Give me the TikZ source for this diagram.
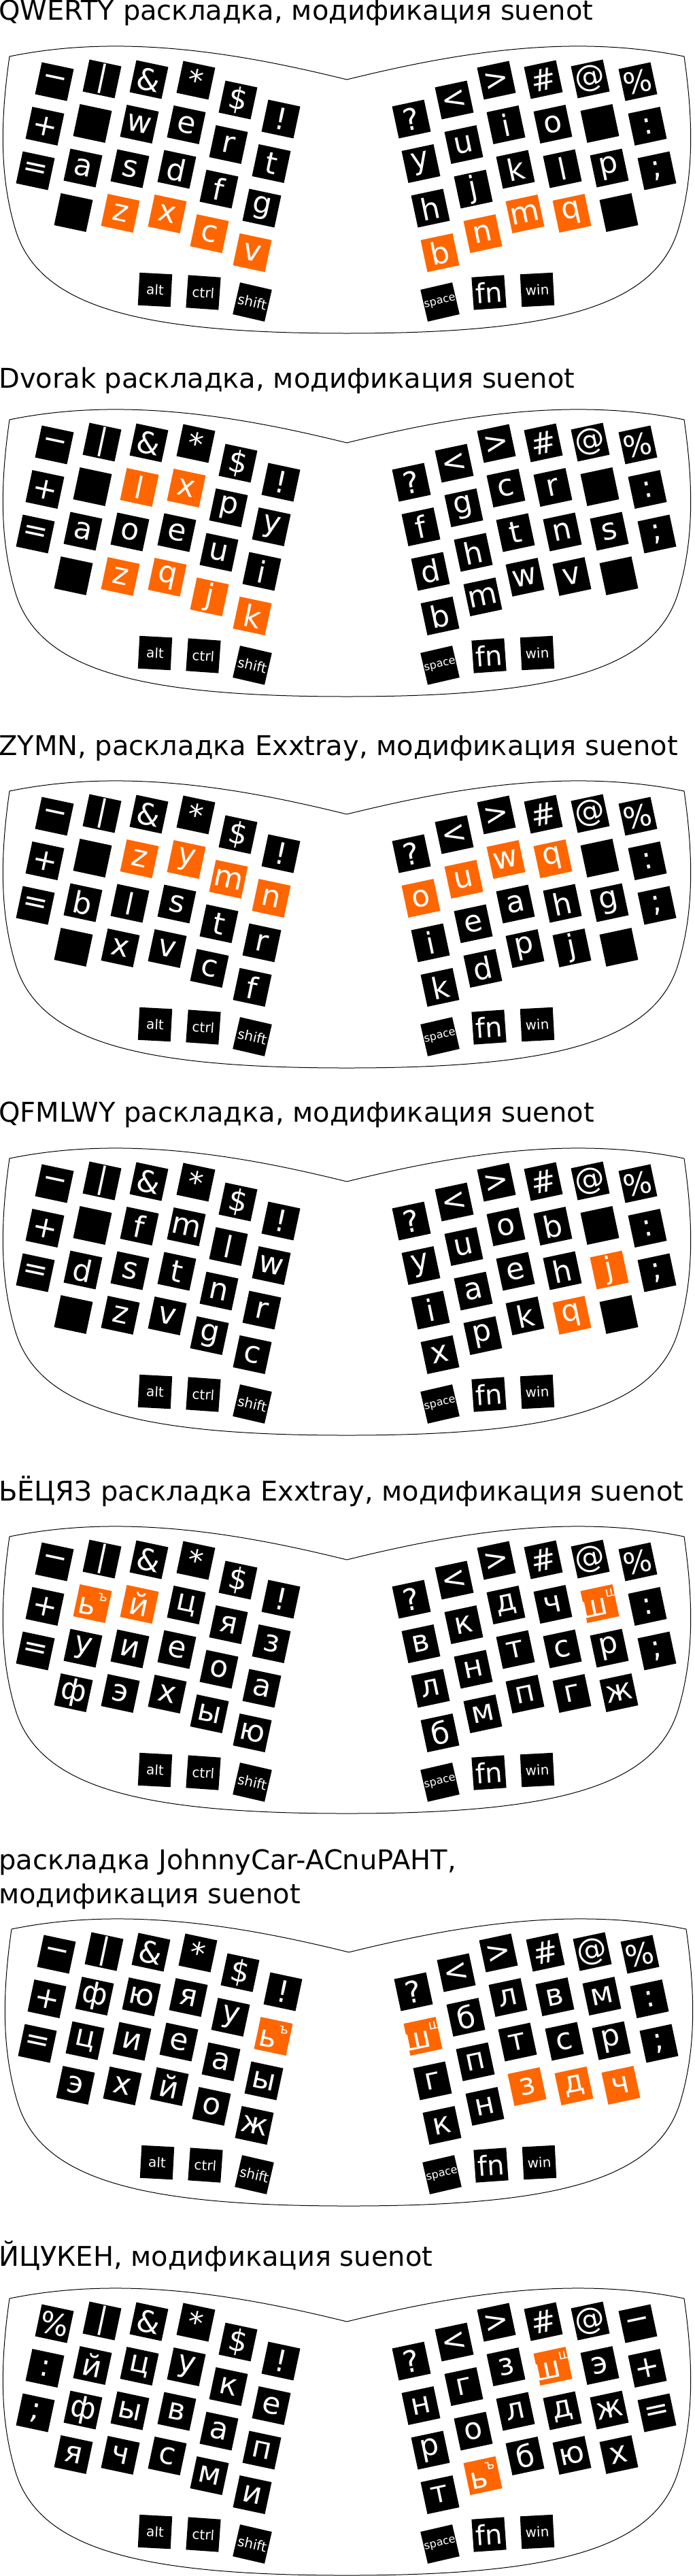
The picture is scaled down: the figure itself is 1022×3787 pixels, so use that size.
\documentclass[tikz,border=0pt]{standalone}
\usepackage{fontspec}
\setmainfont{DejaVu Sans}
\definecolor{keyorange}{RGB}{255,102,0}
\colorlet{k}{black}
\colorlet{o}{keyorange}
\tikzset{
  keybox/.style={rectangle, minimum size=48pt, inner sep=0pt, text=white,
    font=\fontsize{44}{44}\selectfont},
  thumbkey/.style={keybox, fill=black, font=\fontsize{20}{20}\selectfont},
  shellline/.style={black, line width=1pt},
  headline/.style={anchor=base west, inner sep=0pt, font=\fontsize{40}{48}\selectfont}
}
\newcommand{\supkey}[2]{#1\raisebox{.55em}{\fontsize{20}{20}\selectfont #2}}
\newcommand{\leftrow}[4]{%
  \foreach \kc/\kl [count=\kn from #3] in {#4} {
    \pgfmathsetmacro{\px}{{80,150,219,288,350,413}[\kn-1]}
    \pgfmathsetmacro{\py}{{120,116,117,118,147,175}[\kn-1]}
    \node[keybox, fill=\kc, rotate=-12] (#1l#2\kn) at (\px-14*#2+14,\py+65.5*#2-65.5) {\makebox[0pt]{\kl}};
  }}
\newcommand{\rightrow}[4]{%
  \foreach \kc/\kl [count=\kn from #3] in {#4} {
    \pgfmathsetmacro{\px}{{938,868,799,730,668,605}[\kn-1]}
    \pgfmathsetmacro{\py}{{120,116,117,118,147,175}[\kn-1]}
    \node[keybox, fill=\kc, rotate=12] (#1r#2\kn) at (\px+14*#2-14,\py+65.5*#2-65.5) {\makebox[0pt]{\kl}};
  }}
\newcommand{\thumbs}[1]{%
  \node[thumbkey, rotate=-3] (#1alt) at (228,426) {alt};
  \node[thumbkey, rotate=-4] (#1ctrl) at (299,430) {ctrl};
  \node[thumbkey, rotate=-13] (#1shift) at (371,444) {shift};
  \node[thumbkey, rotate=13, font=\fontsize{16}{16}\selectfont] (#1space) at (647,444) {space};
  \node[thumbkey, rotate=4, font=\fontsize{40}{40}\selectfont] (#1fn) at (719,430) {fn};
  \node[thumbkey, rotate=3] (#1win) at (790,426) {win};}
\newcommand{\shell}{%
  \draw[shellline] (510,117) .. controls (360,80) and (184,48) .. (14,83)
    .. controls (0,180) and (0,260) .. (22,335)
    .. controls (55,450) and (200,490) .. (510,490);
  \draw[shellline] (510,117) .. controls (660,80) and (836,48) .. (1006,83)
    .. controls (1020,180) and (1020,260) .. (998,335)
    .. controls (965,450) and (820,490) .. (510,490);}
\begin{document}
\begin{tikzpicture}[x=1pt, y=-1pt]
\useasboundingbox (0,0) rectangle (1022,3787);
% QWERTY
\begin{scope}
\node[headline] (qwtitle) at (-2,30) {QWERTY раскладка, модификация suenot};
\shell
\leftrow{qw}{1}{1}{k/−,k/|,k/\&,k/*,k/\$,k/!}
\leftrow{qw}{2}{1}{k/+,k/{},k/w,k/e,k/r,k/t}
\leftrow{qw}{3}{1}{k/=,k/a,k/s,k/d,k/f,k/g}
\leftrow{qw}{4}{2}{k/{},o/z,o/x,o/c,o/v}
\rightrow{qw}{1}{1}{k/\%,k/@,k/\#,k/>,k/<,k/?}
\rightrow{qw}{2}{1}{k/:,k/{},k/o,k/i,k/u,k/y}
\rightrow{qw}{3}{1}{k/;,k/p,k/l,k/k,k/j,k/h}
\rightrow{qw}{4}{2}{k/{},o/q,o/m,o/n,o/b}
\thumbs{qw}
\end{scope}
% Dvorak
\begin{scope}[shift={(0,534)}]
\node[headline] (dvtitle) at (-2,36) {Dvorak раскладка, модификация suenot};
\shell
\leftrow{dv}{1}{1}{k/−,k/|,k/\&,k/*,k/\$,k/!}
\leftrow{dv}{2}{1}{k/+,k/{},o/l,o/x,k/p,k/y}
\leftrow{dv}{3}{1}{k/=,k/a,k/o,k/e,k/u,k/i}
\leftrow{dv}{4}{2}{k/{},o/z,o/q,o/j,o/k}
\rightrow{dv}{1}{1}{k/\%,k/@,k/\#,k/>,k/<,k/?}
\rightrow{dv}{2}{1}{k/:,k/{},k/r,k/c,k/g,k/f}
\rightrow{dv}{3}{1}{k/;,k/s,k/n,k/t,k/h,k/d}
\rightrow{dv}{4}{2}{k/{},k/v,k/w,k/m,k/b}
\thumbs{dv}
\end{scope}
% ZYMN
\begin{scope}[shift={(0,1080)}]
\node[headline] (zytitle) at (-2,30) {ZYMN, раскладка Exxtray, модификация suenot};
\shell
\leftrow{zy}{1}{1}{k/−,k/|,k/\&,k/*,k/\$,k/!}
\leftrow{zy}{2}{1}{k/+,k/{},o/z,o/y,o/m,o/n}
\leftrow{zy}{3}{1}{k/=,k/b,k/l,k/s,k/t,k/r}
\leftrow{zy}{4}{2}{k/{},k/x,k/v,k/c,k/f}
\rightrow{zy}{1}{1}{k/\%,k/@,k/\#,k/>,k/<,k/?}
\rightrow{zy}{2}{1}{k/:,k/{},o/q,o/w,o/u,o/o}
\rightrow{zy}{3}{1}{k/;,k/g,k/h,k/a,k/e,k/i}
\rightrow{zy}{4}{2}{k/{},k/j,k/p,k/d,k/k}
\thumbs{zy}
\end{scope}
% QFMLWY
\begin{scope}[shift={(0,1620)}]
\node[headline] (qftitle) at (-2,29) {QFMLWY раскладка, модификация suenot};
\shell
\leftrow{qf}{1}{1}{k/−,k/|,k/\&,k/*,k/\$,k/!}
\leftrow{qf}{2}{1}{k/+,k/{},k/f,k/m,k/l,k/w}
\leftrow{qf}{3}{1}{k/=,k/d,k/s,k/t,k/n,k/r}
\leftrow{qf}{4}{2}{k/{},k/z,k/v,k/g,k/c}
\rightrow{qf}{1}{1}{k/\%,k/@,k/\#,k/>,k/<,k/?}
\rightrow{qf}{2}{1}{k/:,k/{},k/b,k/o,k/u,k/y}
\rightrow{qf}{3}{1}{k/;,o/j,k/h,k/e,k/a,k/i}
\rightrow{qf}{4}{2}{k/{},o/q,k/k,k/p,k/x}
\thumbs{qf}
\end{scope}
% ЬЁЦЯЗ
\begin{scope}[shift={(0,2176)}]
\node[headline] (ectitle) at (-2,30) {ЬЁЦЯЗ раскладка Exxtray, модификация suenot};
\shell
\leftrow{ec}{1}{1}{k/−,k/|,k/\&,k/*,k/\$,k/!}
\leftrow{ec}{2}{1}{k/+,o/{\supkey{ь}{ъ}},o/й,k/ц,k/я,k/з}
\leftrow{ec}{3}{1}{k/=,k/у,k/и,k/е,k/о,k/а}
\leftrow{ec}{4}{2}{k/ф,k/э,k/х,k/ы,k/ю}
\rightrow{ec}{1}{1}{k/\%,k/@,k/\#,k/>,k/<,k/?}
\rightrow{ec}{2}{1}{k/:,o/{\supkey{ш}{щ}},k/ч,k/д,k/к,k/в}
\rightrow{ec}{3}{1}{k/;,k/р,k/с,k/т,k/н,k/л}
\rightrow{ec}{4}{2}{k/ж,k/г,k/п,k/м,k/б}
\thumbs{ec}
\end{scope}
% JohnnyCar
\begin{scope}[shift={(3,2753)}]
\node[headline] (jctitle) at (-5,-5) {раскладка JohnnyCar-ACnuPAHT,};
\node[headline] (jctitleb) at (-5,45) {модификация suenot};
\shell
\leftrow{jc}{1}{1}{k/−,k/|,k/\&,k/*,k/\$,k/!}
\leftrow{jc}{2}{1}{k/+,k/ф,k/ю,k/я,k/у,o/{\supkey{ь}{ъ}}}
\leftrow{jc}{3}{1}{k/=,k/ц,k/и,k/е,k/а,k/ы}
\leftrow{jc}{4}{2}{k/э,k/х,k/й,k/о,k/ж}
\rightrow{jc}{1}{1}{k/\%,k/@,k/\#,k/>,k/<,k/?}
\rightrow{jc}{2}{1}{k/:,k/м,k/в,k/л,k/б,o/{\supkey{ш}{щ}}}
\rightrow{jc}{3}{1}{k/;,k/р,k/с,k/т,k/п,k/г}
\rightrow{jc}{4}{2}{o/ч,o/д,o/з,k/н,k/к}
\thumbs{jc}
\end{scope}
% ЙЦУКЕН
\begin{scope}[shift={(0,3296)}]
\node[headline] (yctitle) at (-2,35) {ЙЦУКЕН, модификация suenot};
\shell
\leftrow{yc}{1}{1}{k/\%,k/|,k/\&,k/*,k/\$,k/!}
\leftrow{yc}{2}{1}{k/:,k/й,k/ц,k/у,k/к,k/е}
\leftrow{yc}{3}{1}{k/;,k/ф,k/ы,k/в,k/а,k/п}
\leftrow{yc}{4}{2}{k/я,k/ч,k/с,k/м,k/и}
\rightrow{yc}{1}{1}{k/−,k/@,k/\#,k/>,k/<,k/?}
\rightrow{yc}{2}{1}{k/+,k/э,o/{\supkey{ш}{щ}},k/з,k/г,k/н}
\rightrow{yc}{3}{1}{k/=,k/ж,k/д,k/л,k/о,k/р}
\rightrow{yc}{4}{2}{k/х,k/ю,k/б,o/{\supkey{ь}{ъ}},k/т}
\thumbs{yc}
\end{scope}
\end{tikzpicture}
\end{document}
